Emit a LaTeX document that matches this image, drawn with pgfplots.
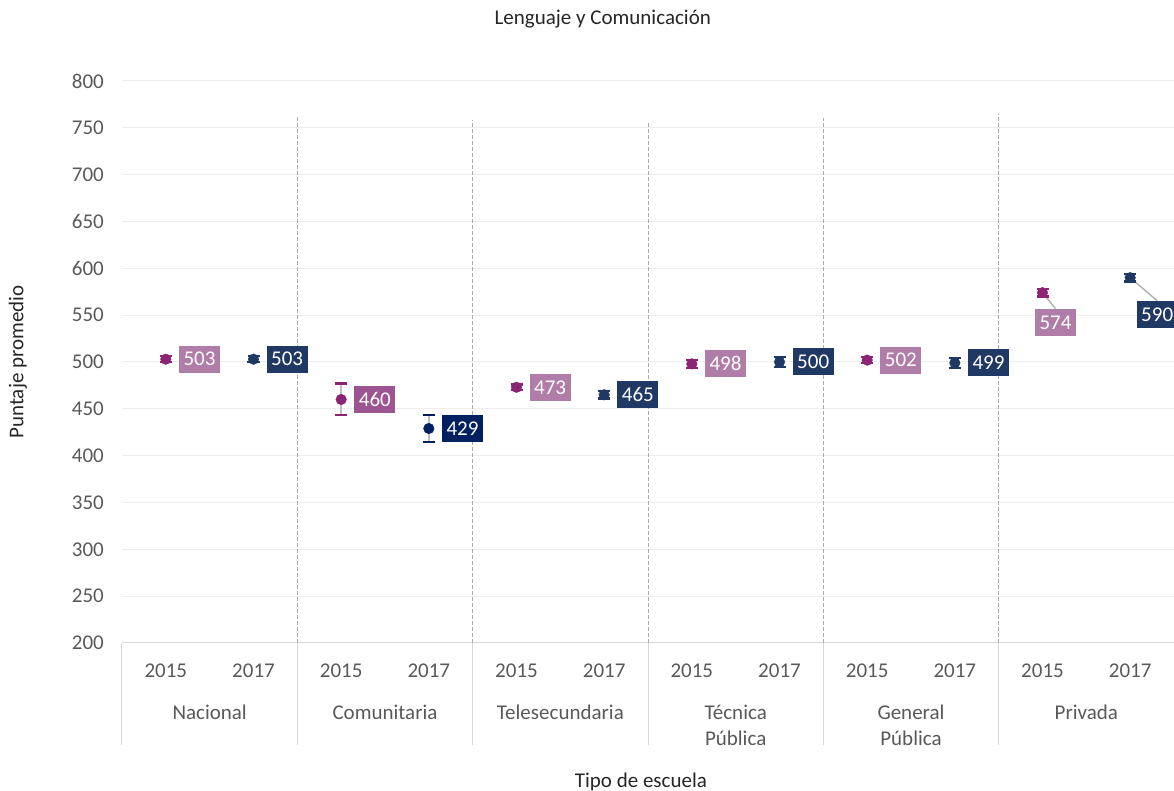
\documentclass[border=0pt]{standalone}
\usepackage{pgfplots}
\pgfplotsset{compat=1.18}
\usepackage{pgfplotstable}
\usepackage{fontspec}
\setmainfont{Carlito}
\definecolor{purp}{HTML}{8B2472}
\definecolor{lpurp}{HTML}{B07CA8}
\definecolor{mpurp}{HTML}{9C5592}
\definecolor{navy}{HTML}{203864}
\definecolor{dnavy}{HTML}{002060}
\definecolor{gridc}{HTML}{EDEDED}
\definecolor{linec}{HTML}{D9D9D9}
\definecolor{sepc}{HTML}{ABABAB}
\definecolor{tickc}{HTML}{595959}
\definecolor{errc}{HTML}{BFBFBF}
\newcommand\bigf{\fontsize{21}{25}\selectfont}

\pgfplotstableread{
x y e lab
0 503 3 503
4 473 3 473
6 498 4 498
8 502 3 502
}\aNormal
\pgfplotstableread{
x y e lab
2 460 17 460
}\aCom
\pgfplotstableread{
x y e lab
10 574 4 574
}\aPriv
\pgfplotstableread{
x y e lab
1 503 3 503
5 465 4 465
7 500 5 500
9 499 5 499
}\bNormal
\pgfplotstableread{
x y e lab
3 429 14 429
}\bCom
\pgfplotstableread{
x y e lab
11 590 4 590
}\bPriv

\pgfplotsset{
  errstyle/.style={only marks, mark=*, mark size=5.3pt, color=#1,
    error bars/.cd, y dir=both, y explicit, error mark=|,
    error bar style={color=errc, line width=2pt},
    error mark options={color=#1, draw=#1, line width=2.2pt, mark size=6pt}},
  labstyle/.style={draw=none, mark=none, nodes near coords,
    every node near coord/.append style={fill=#1, text=white, font=\bigf, inner xsep=4.5pt, inner ysep=0pt, minimum height=27pt}},
}

\begin{document}
\begin{tikzpicture}
\path[use as bounding box] (-122pt,-148pt) rectangle (1052pt,643pt);
\begin{axis}[
  at={(0,0)}, anchor=south west,
  scale only axis, width=1052pt, height=562pt,
  xmin=-0.5, xmax=11.5, ymin=200, ymax=800,
  ytick={200,250,...,800},
  xtick={0,...,11},
  xticklabels={2015,2017,2015,2017,2015,2017,2015,2017,2015,2017,2015,2017},
  major tick length=0,
  axis line style={draw=none},
  ymajorgrids, grid style={color=gridc, line width=1pt},
  clip=false,
  /pgf/number format/assume math mode=true,
  tick label style={font=\bigf, text=tickc},
  yticklabel style={anchor=east, inner sep=0pt, xshift=-18pt},
  xticklabel style={anchor=center, inner sep=0pt, yshift=-28pt},
  title={Lenguaje y Comunicación},
  title style={at={([yshift=56pt]axis description cs:0.457,1)}, anchor=center, font=\bigf, text=black!85, inner sep=0pt},
  xlabel={Tipo de escuela},
  xlabel style={at={([yshift=-139pt]axis description cs:0.4933,0)}, anchor=center, font=\bigf, text=black!85, inner sep=0pt},
  ylabel={Puntaje promedio},
  ylabel style={at={([xshift=-104pt]axis description cs:0,0.5)}, anchor=center, font=\bigf, text=black!85, inner sep=0pt},
  point meta=explicit symbolic,
]
% bottom axis line and category separators
\draw[linec, line width=1pt] (axis cs:-0.5,200) -- (axis cs:11.5,200);
\pgfplotsinvokeforeach{-0.5,1.5,3.5,5.5,7.5,9.5}{
  \draw[linec, line width=1pt] (axis cs:#1,200) -- ([yshift=-102pt]axis cs:#1,200);
}
\draw[sepc, dash pattern=on 4pt off 2pt, line width=1pt] (axis cs:1.5,200) -- (axis cs:1.5,763.7);
\draw[sepc, dash pattern=on 4pt off 2pt, line width=1pt] (axis cs:3.5,200) -- (axis cs:3.5,758);
\draw[sepc, dash pattern=on 4pt off 2pt, line width=1pt] (axis cs:5.5,200) -- (axis cs:5.5,755);
\draw[sepc, dash pattern=on 4pt off 2pt, line width=1pt] (axis cs:7.5,200) -- (axis cs:7.5,760.5);
\draw[sepc, dash pattern=on 4pt off 2pt, line width=1pt] (axis cs:9.5,200) -- (axis cs:9.5,764.7);
% group names
\node[anchor=base, font=\bigf, text=tickc, inner sep=0pt] at ([yshift=-76.5pt]axis cs:0.5,200) {Nacional};
\node[anchor=base, font=\bigf, text=tickc, inner sep=0pt] at ([yshift=-76.5pt]axis cs:2.5,200) {Comunitaria};
\node[anchor=base, font=\bigf, text=tickc, inner sep=0pt] at ([yshift=-76.5pt]axis cs:4.5,200) {Telesecundaria};
\node[anchor=base, font=\bigf, text=tickc, inner sep=0pt] at ([yshift=-76.5pt]axis cs:6.5,200) {Técnica};
\node[anchor=base, font=\bigf, text=tickc, inner sep=0pt] at ([yshift=-76.5pt]axis cs:8.5,200) {General};
\node[anchor=base, font=\bigf, text=tickc, inner sep=0pt] at ([yshift=-76.5pt]axis cs:10.5,200) {Privada};
\node[anchor=base, font=\bigf, text=tickc, inner sep=0pt] at ([yshift=-102.5pt]axis cs:6.5,200) {Pública};
\node[anchor=base, font=\bigf, text=tickc, inner sep=0pt] at ([yshift=-102.5pt]axis cs:8.5,200) {Pública};
% leader lines
\draw[errc!75!gray, line width=1.4pt] (axis cs:10,574) -- ([xshift=13pt,yshift=-16pt]axis cs:10,574);
\draw[errc!75!gray, line width=1.4pt] (axis cs:11,590) -- ([xshift=27pt,yshift=-23pt]axis cs:11,590);

% 2015
\addplot[errstyle=purp] table[x=x, y=y, y error=e, meta=lab] {\aNormal};
\addplot[errstyle=purp] table[x=x, y=y, y error=e, meta=lab] {\aCom};
\addplot[errstyle=purp] table[x=x, y=y, y error=e, meta=lab] {\aPriv};
% 2017
\addplot[errstyle=navy] table[x=x, y=y, y error=e, meta=lab] {\bNormal};
\addplot[errstyle=dnavy] table[x=x, y=y, y error=e, meta=lab] {\bCom};
\addplot[errstyle=navy] table[x=x, y=y, y error=e, meta=lab] {\bPriv};

% data labels
\addplot[labstyle=lpurp, every node near coord/.append style={anchor=west, xshift=13pt}]
  table[x=x, y=y, meta=lab] {\aNormal};
\addplot[labstyle=mpurp, every node near coord/.append style={anchor=west, xshift=13pt}]
  table[x=x, y=y, meta=lab] {\aCom};
\addplot[labstyle=lpurp, every node near coord/.append style={anchor=north, xshift=13pt, yshift=-16pt}]
  table[x=x, y=y, meta=lab] {\aPriv};
\addplot[labstyle=navy, every node near coord/.append style={anchor=west, xshift=13pt}]
  table[x=x, y=y, meta=lab] {\bNormal};
\addplot[labstyle=dnavy, every node near coord/.append style={anchor=west, xshift=13pt}]
  table[x=x, y=y, meta=lab] {\bCom};
\addplot[labstyle=navy, every node near coord/.append style={anchor=north, xshift=27pt, yshift=-23pt}]
  table[x=x, y=y, meta=lab] {\bPriv};
\end{axis}
\end{tikzpicture}
\end{document}
